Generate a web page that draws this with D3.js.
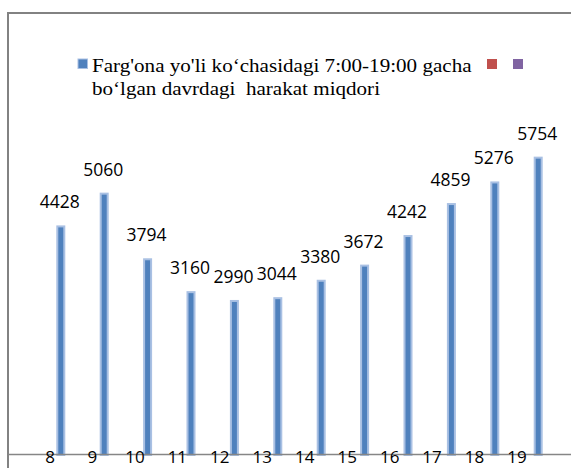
<!DOCTYPE html>
<html>
<head>
<meta charset="utf-8">
<script src="https://cdn.jsdelivr.net/npm/d3@7"></script>
<style>
  html, body { margin: 0; padding: 0; background: #fff; }
  svg { display: block; }
  .serif { font-family: "Liberation Serif", "DejaVu Serif", serif; }
</style>
</head>
<body>
<script>
const categories = ["8", "9", "10", "11", "12", "13", "14", "15", "16", "17", "18", "19"];
const values = [4428, 5060, 3794, 3160, 2990, 3044, 3380, 3672, 4242, 4859, 5276, 5754];
const legendLines = ["Farg'ona yo'li ko\u2018chasidagi 7:00-19:00 gacha", "bo\u2018lgan davrdagi  harakat miqdori"];
const extraLegendColors = ["#C0504D", "#8064A2"];

const W = 571, H = 468;
const svg = d3.select("body").append("svg").attr("width", W).attr("height", H);

// frame
svg.append("path")
  .attr("d", `M8,${H + 2} L8,13 L${W + 2},13`)
  .attr("fill", "none").attr("stroke", "#828282").attr("stroke-width", 2);

const x = d3.scalePoint().domain(categories).range([60.8, 538.2]);
const xLab = d3.scalePoint().domain(categories).range([50, 517]);
const y = d3.scaleLinear().domain([0, 6000]).range([455, 143.9]);

// bars
svg.append("g").selectAll("rect").data(values).join("rect")
  .attr("x", (d, i) => x(categories[i]) - 3.5)
  .attr("width", 7)
  .attr("y", d => y(d) + 1)
  .attr("height", d => y(0) - y(d) - 1)
  .attr("fill", "#4F81BD")
  .attr("stroke", "#A9C0E3")
  .attr("stroke-width", 2);

// axis line
svg.append("line")
  .attr("x1", 8).attr("x2", W).attr("y1", 454.5).attr("y2", 454.5)
  .attr("stroke", "#868686").attr("stroke-width", 1.5);

// value labels
svg.append("g").selectAll("text").data(values).join("text")
  .attr("x", (d, i) => x(categories[i]) - 1)
  .attr("y", d => y(d) - 17)
  .attr("text-anchor", "middle")
  .attr("font-family", "Open Sans, sans-serif")
  .attr("font-size", 17.5)
  .attr("fill", "#000")
  .text(d => d);

// category labels
svg.append("g").selectAll("text").data(categories).join("text")
  .attr("x", d => xLab(d))
  .attr("y", 463)
  .attr("text-anchor", "middle")
  .attr("font-family", "Open Sans, sans-serif")
  .attr("font-size", 17)
  .attr("fill", "#000")
  .text(d => d);

// legend
const lg = svg.append("g");
lg.append("rect").attr("x", 78).attr("y", 59).attr("width", 9.5).attr("height", 9.5)
  .attr("fill", "#4F81BD").attr("stroke", "#A9C0E3").attr("stroke-width", 1);
lg.append("g").attr("transform", "translate(92,0) scale(1.11,1)")
  .selectAll("text").data(legendLines).join("text")
  .attr("class", "serif")
  .attr("x", 0)
  .attr("y", (d, i) => 72 + i * 23)
  .attr("font-size", 19)
  .attr("fill", "#000")
  .style("white-space", "pre")
  .text(d => d);
lg.selectAll("rect.extra").data(extraLegendColors).join("rect")
  .attr("class", "extra")
  .attr("x", (d, i) => 487 + i * 26)
  .attr("y", 59).attr("width", 10).attr("height", 10)
  .attr("fill", d => d);
</script>
</body>
</html>
